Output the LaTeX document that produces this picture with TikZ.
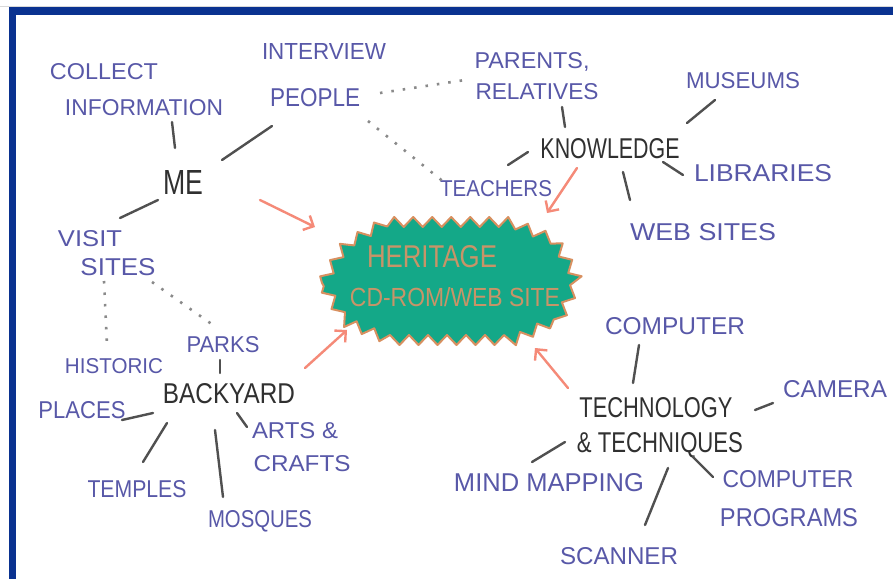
\documentclass[tikz,border=0pt]{standalone}
\usepackage{fontspec}
\setmainfont{Liberation Sans}
\usepackage{graphicx}
\usetikzlibrary{calc,arrows.meta,decorations.pathmorphing}
\definecolor{frameblue}{HTML}{0A3290}
\definecolor{ink}{HTML}{5858A8}
\definecolor{darkink}{HTML}{303030}
\definecolor{linec}{HTML}{505050}
\definecolor{dotc}{HTML}{8A8A8A}
\definecolor{salmonc}{HTML}{F58A78}
\definecolor{burstfill}{HTML}{14A888}
\definecolor{burstedge}{HTML}{D89060}
\definecolor{bursttext}{HTML}{C89468}
\newcommand\hw[3]{\resizebox{#1pt}{#2pt}{#3}}
\tikzset{
  lab/.style={inner sep=0pt, outer sep=0pt, text=ink},
  keyw/.style={inner sep=0pt, outer sep=0pt, text=darkink},
  conn/.style={draw=linec, line width=2.4pt, line cap=round},
  dots/.style={draw=dotc, line width=2.6pt, dash pattern=on 2.5pt off 9pt},
  hot/.style={draw=salmonc, line width=2.4pt, line cap=round, -{Straight Barb[length=8pt,width=16pt]}}
}
\begin{document}
\begin{tikzpicture}[x=1pt,y=-1pt]
\useasboundingbox (0,0) rectangle (893,578);
\fill[white] (0,0) rectangle (893,578);
% frame
\draw[frameblue, line width=7.5pt] (12.5,11) rectangle (905,595);
\draw[black!15, line width=0.8pt] (0,6.5) -- (893,6.5);

% burst
\node[inner sep=0pt] (site) at (449,280) {};
\path[draw=burstedge, fill=burstfill, line width=2pt, line join=round, decorate,
  decoration={zigzag, segment length=19pt, amplitude=5pt}]
  (322,283) -- (345,245) -- (385,222) -- (510,222) -- (555,240) -- (578,280)
  -- (560,318) -- (515,340) -- (390,340) -- (345,322) -- cycle;
\node[inner sep=0pt, text=bursttext] (heritage) at (432,257) {\hw{130}{22}{HERITAGE}};
\node[inner sep=0pt, text=bursttext] (cdrom) at (455,297) {\hw{210}{19}{CD-ROM/WEB SITE}};

% labels
\node[lab] (collect) at (104,72) {\hw{108}{16}{COLLECT}};
\node[lab] (info) at (144,108) {\hw{158}{16}{INFORMATION}};
\node[lab] (interview) at (324,51) {\hw{124}{16}{INTERVIEW}};
\node[lab] (people) at (315,98) {\hw{90}{18}{PEOPLE}};
\node[keyw] (me) at (183,182) {\hw{40}{24}{ME}};
\node[lab] (parents) at (532,62) {\hw{115}{16}{PARENTS,}};
\node[lab] (relatives) at (537,92) {\hw{123}{16}{RELATIVES}};
\node[keyw] (knowledge) at (610,149) {\hw{139}{20}{KNOWLEDGE}};
\node[lab] (museums) at (743,81) {\hw{114}{16}{MUSEUMS}};
\node[lab] (teachers) at (496,189) {\hw{112}{16}{TEACHERS}};
\node[lab] (libraries) at (763,173) {\hw{138}{17}{LIBRARIES}};
\node[lab] (websites) at (703,232) {\hw{146}{17}{WEB SITES}};
\node[lab] (visit) at (90,239) {\hw{64}{16}{VISIT}};
\node[lab] (sites) at (118,267) {\hw{75}{17}{SITES}};
\node[lab] (historic) at (114,366) {\hw{98}{15}{HISTORIC}};
\node[lab] (places) at (82,410) {\hw{87}{17}{PLACES}};
\node[lab] (parks) at (223,345) {\hw{73}{16}{PARKS}};
\node[keyw] (backyard) at (229,394) {\hw{132}{20}{BACKYARD}};
\node[lab] (arts) at (295,431) {\hw{86}{16}{ARTS \&}};
\node[lab] (crafts) at (302,464) {\hw{97}{16}{CRAFTS}};
\node[lab] (temples) at (137,489) {\hw{99}{17}{TEMPLES}};
\node[lab] (mosques) at (260,521) {\hw{104}{17}{MOSQUES}};
\node[lab] (computer) at (675,326) {\hw{140}{17}{COMPUTER}};
\node[keyw] (technology) at (656,408) {\hw{153}{20}{TECHNOLOGY}};
\node[keyw] (techniques) at (660,445) {\hw{166}{20}{\& TECHNIQUES}};
\node[lab] (camera) at (835,389) {\hw{104}{17}{CAMERA}};
\node[lab] (mindmap) at (549,483) {\hw{190}{18}{MIND MAPPING}};
\node[lab] (comp2) at (788,479) {\hw{131}{17}{COMPUTER}};
\node[lab] (programs) at (789,518) {\hw{138}{18}{PROGRAMS}};
\node[lab] (scanner) at (619,556) {\hw{118}{17}{SCANNER}};

% connectors
\draw[conn] ($(info)+(28,14)$) -- ($(me)+(-8,-34)$);
\draw[conn] ($(me)+(39,-22)$) -- ($(people)+(-43,28)$);
\draw[conn] ($(me)+(-25,18)$) -- ($(visit)+(30,-21)$);
\draw[dots] ($(people)+(65,-5)$) -- ($(parents)+(-67,18)$);
\draw[dots] ($(people)+(53,23)$) -- ($(teachers)+(-51,-6)$);
\draw[conn] ($(relatives)+(25,15)$) -- ($(knowledge)+(-45,-22)$);
\draw[conn] ($(knowledge)+(-82,3)$) -- ($(teachers)+(12,-24)$);
\draw[conn] ($(knowledge)+(77,-26)$) -- ($(museums)+(-28,19)$);
\draw[conn] ($(knowledge)+(53,13)$) -- ($(libraries)+(-80,2)$);
\draw[conn] ($(knowledge)+(13,23)$) -- ($(websites)+(-73,-32)$);
\draw[dots] ($(sites)+(-14,14)$) -- ($(historic)+(-7,-21)$);
\draw[dots] ($(sites)+(34,15)$) -- ($(parks)+(-10,-20)$);
\draw[conn] ($(parks)+(-3,15)$) -- ($(backyard)+(-9,-21)$);
\draw[conn] ($(backyard)+(-76,19)$) -- ($(places)+(40,10)$);
\draw[conn] ($(backyard)+(-62,29)$) -- ($(temples)+(6,-27)$);
\draw[conn] ($(backyard)+(-14,36)$) -- ($(mosques)+(-37,-24)$);
\draw[conn] ($(backyard)+(8,19)$) -- ($(arts)+(-48,-4)$);
\draw[conn] ($(computer)+(-36,19)$) -- ($(technology)+(-23,-25)$);
\draw[conn] ($(technology)+(99,2)$) -- ($(camera)+(-62,14)$);
\draw[conn] ($(techniques)+(-95,-3)$) -- ($(mindmap)+(-17,-21)$);
\draw[conn] ($(techniques)+(8,23)$) -- ($(scanner)+(26,-31)$);
\draw[conn] ($(techniques)+(33,12)$) -- ($(comp2)+(-75,-2)$);

% arrows to the site
\draw[hot] ($(me)+(77,18)$) -- ($(site)+(-134,-53)$);
\draw[hot] ($(backyard)+(76,-26)$) -- ($(site)+(-102,50)$);
\draw[hot] ($(knowledge)+(-33,19)$) -- ($(site)+(98,-67)$);
\draw[hot] ($(technology)+(-88,-20)$) -- ($(site)+(86,68)$);
\end{tikzpicture}
\end{document}
